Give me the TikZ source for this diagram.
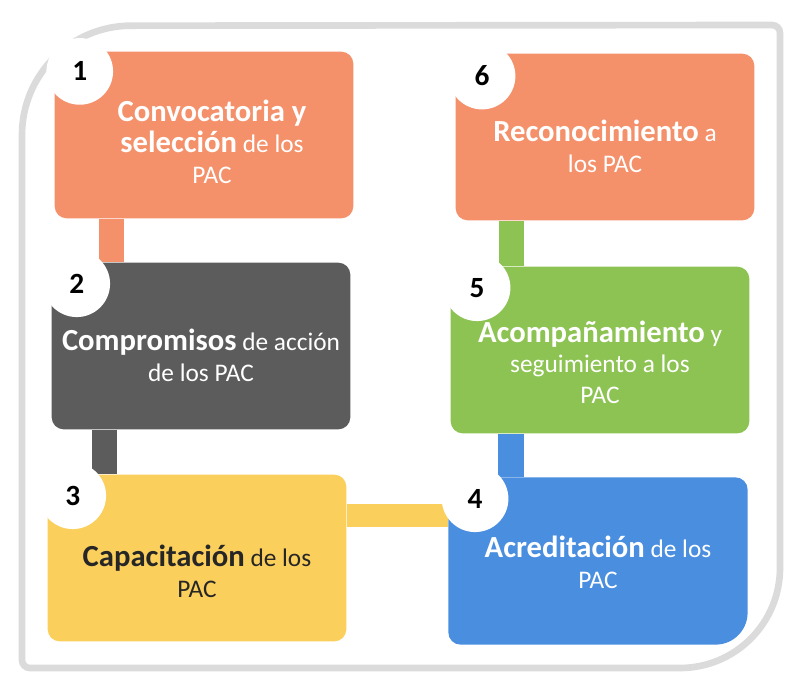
\documentclass[tikz,border=0pt]{standalone}
\usepackage{fontspec}
\setmainfont{Carlito}

\definecolor{pacOrange}{HTML}{F4916B}
\definecolor{pacGray}{HTML}{5C5C5C}
\definecolor{pacYellow}{HTML}{FBCF5C}
\definecolor{pacGreen}{HTML}{8DC353}
\definecolor{pacBlue}{HTML}{4A8EDF}
\definecolor{pacInk}{HTML}{262626}
\newcommand\hd[1]{{\fontsize{23}{25}\selectfont\bfseries #1}}

\begin{document}
\begin{tikzpicture}[
	x=0.75pt, y=-0.75pt,
	box/.style = {rounded corners=9pt, minimum width=224pt, minimum height=125pt},
	txt/.style = {align=center, text=white, font=\fontsize{19}{23}\selectfont},
	num/.style = {circle, fill=white, minimum size=50pt, inner sep=0pt,
	              font=\fontsize{22}{22}\selectfont\bfseries},
	bar/.style = {line width=19pt},
	frame/.style = {line width=5pt, draw=black!14}
     ]
		\useasboundingbox (0,0) rectangle (790,679);
		\draw[frame] (22,135) arc[start angle=180, end angle=90, radius=82pt]
		  -- (772,25) arc[start angle=90, end angle=0, radius=6pt]
		  -- (780,568) arc[start angle=0, end angle=-90, radius=75pt]
		  -- (30,668) arc[start angle=270, end angle=180, radius=6pt] -- cycle;
%
		\node (b1) [box, fill=pacOrange] at (204,135) {};
		\node (b2) [box, fill=pacGray]   at (201,346) {};
		\node (b3) [box, fill=pacYellow] at (197,558) {};
		\node (b6) [box, fill=pacOrange] at (605,137) {};
		\node (b5) [box, fill=pacGreen]  at (600,350) {};
		\node (b4) [box]                 at (598,561) {};
		\fill[pacBlue] ([xshift=9pt]b4.north west) -- ([xshift=-9pt]b4.north east)
		  arc[start angle=90, end angle=0, radius=9pt] -- ([yshift=24pt]b4.south east)
		  arc[start angle=0, end angle=-90, radius=24pt] -- ([xshift=9pt]b4.south west)
		  arc[start angle=270, end angle=180, radius=9pt] -- ([yshift=-9pt]b4.north west)
		  arc[start angle=180, end angle=90, radius=9pt] -- cycle;
%
		\draw[bar, pacOrange] ([xshift=43pt]b1.south west) -- ([xshift=43pt]b1.south west |- b2.north);
		\draw[bar, pacGray]   ([xshift=40pt]b2.south west) -- ([xshift=40pt]b2.south west |- b3.north);
		\draw[bar, pacYellow, line width=17pt] ([yshift=-31pt]b3.north east) -- ([yshift=-31pt]b3.north east -| b4.west);
		\draw[bar, pacBlue]   ([xshift=47pt]b4.north west) -- ([xshift=47pt]b4.north west |- b5.south);
		\draw[bar, pacGreen]  ([xshift=46pt]b5.north west) -- ([xshift=46pt]b5.north west |- b6.south);
%
		\node (n1) [num] at ([xshift=19pt,yshift=-15pt]b1.north west) {1};
		\node (n2) [num] at ([xshift=19pt,yshift=-16pt]b2.north west) {2};
		\node (n3) [num] at ([xshift=19pt,yshift=-16pt]b3.north west) {3};
		\node (n4) [num] at ([xshift=20pt,yshift=-16pt]b4.north west) {4};
		\node (n5) [num] at ([xshift=20pt,yshift=-16pt]b5.north west) {5};
		\node (n6) [num] at ([xshift=20pt,yshift=-17pt]b6.north west) {6};
%
		\node (t1) [txt] at ([xshift=6pt,yshift=-5pt]b1.center) {\hd{Convocatoria y}\\ \hd{selección} de los\\ PAC};
		\node (t2) [txt] at ([yshift=-7pt]b2.center) {\hd{Compromisos} de acción\\ de los PAC};
		\node (t3) [txt, text=pacInk] at ([yshift=-10pt]b3.center) {\hd{Capacitación} de los\\ PAC};
		\node (t4) [txt] at ([yshift=-1pt]b4.center) {\hd{Acreditación} de los\\ PAC};
		\node (t5) [txt] at ([yshift=-9pt]b5.center) {\hd{Acompañamiento} y\\ seguimiento a los\\ PAC};
		\node (t6) [txt] at ([yshift=-7pt]b6.center) {\hd{Reconocimiento} a\\ los PAC};
\end{tikzpicture}
\end{document}
